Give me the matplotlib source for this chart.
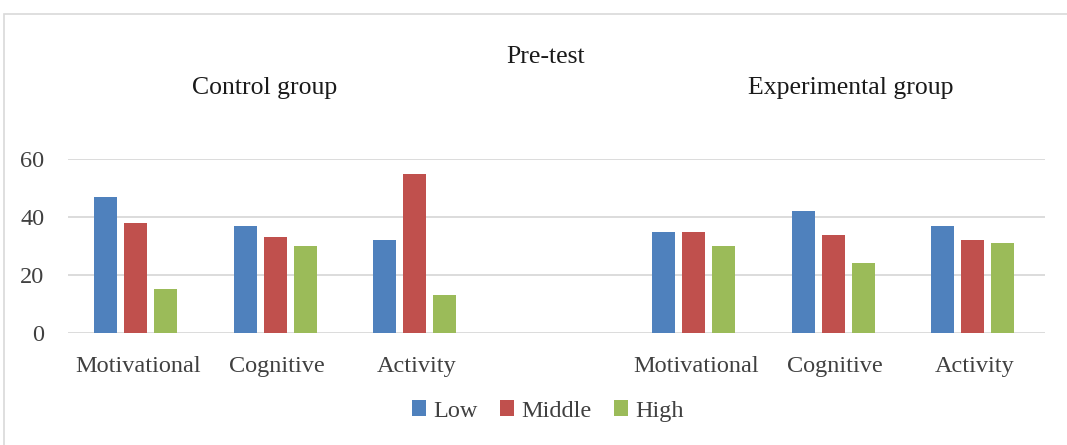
import numpy as np
import matplotlib.pyplot as plt
from matplotlib.patches import Rectangle

plt.rcParams['font.family'] = ['Liberation Serif', 'DejaVu Serif']

# categories (empty slot separates the two groups)
categories = ['Motivational', 'Cognitive', 'Activity', '', 'Motivational', 'Cognitive', 'Activity']
low = [47, 37, 32, np.nan, 35, 42, 37]
middle = [38, 33, 55, np.nan, 35, 34, 32]
high = [15, 30, 13, np.nan, 30, 24, 31]
series_names = ['Low', 'Middle', 'High']
colors = ['#4f81bd', '#c0504d', '#9bbb59']

fig = plt.figure(figsize=(10.67, 4.45), dpi=100)
ax = fig.add_axes([0.0637, 0.252, 0.9153, 0.39])

x = np.arange(len(categories))
w = 0.163
step = 0.215
for i, (vals, name, c) in enumerate(zip([low, middle, high], series_names, colors)):
    ax.bar(x + (i - 1) * step - 0.015, vals, width=w, color=c, label=name, zorder=3)

ax.set_xlim(-0.5, len(categories) - 0.5)
ax.set_ylim(0, 60)
ax.set_yticks([0, 20, 40, 60])
ax.set_xticks(x)
ax.set_xticklabels(categories)
ax.tick_params(length=0, labelsize=17.5, colors='#404040')
ax.tick_params(axis='x', pad=17)
ax.tick_params(axis='y', pad=17)
ax.grid(axis='y', color='#d9d9d9', linewidth=1.3, zorder=0)
for s in ax.spines.values():
    s.set_visible(False)

# outer chart border
fig.patches.append(Rectangle((4 / 1067, -0.1), 1.2, 1 - 14 / 445 + 0.1,
                             transform=fig.transFigure, fill=False,
                             edgecolor='#d9d9d9', linewidth=1.2))

fig.text(546 / 1067, 1 - 57 / 445, 'Pre-test', ha='center', va='center', fontsize=18.5, color='#1a1a1a')
fig.text(265 / 1067, 1 - 88 / 445, 'Control group', ha='center', va='center', fontsize=18.5, color='#1a1a1a')
fig.text(851 / 1067, 1 - 88 / 445, 'Experimental group', ha='center', va='center', fontsize=18.5, color='#1a1a1a')

fig.legend(loc='center', bbox_to_anchor=(548 / 1067, 1 - 411 / 445), ncol=3, frameon=False,
           fontsize=17.5, handlelength=0.6, handleheight=0.6, handletextpad=0.3,
           columnspacing=0.9, labelcolor='#404040')

fig.savefig('out.png', dpi=100, facecolor='white')
